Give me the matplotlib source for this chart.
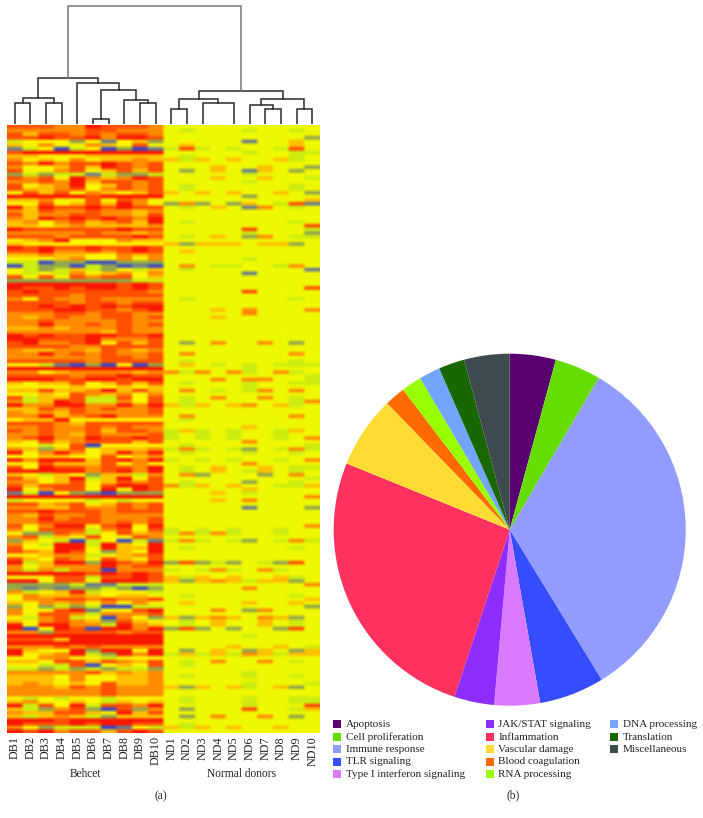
import numpy as np
import matplotlib
matplotlib.use("Agg")
from matplotlib import pyplot as plt
from matplotlib.colors import ListedColormap
from matplotlib.patches import Rectangle

plt.rcParams["font.family"] = ["Liberation Serif", "DejaVu Serif"]

W, H = 703, 818

# heatmap levels, one digit per cell
# 0 blue .. 4 lime background .. 9 red
behcet_rows = [
    "8887798887", "7777788777", "8688787887", "8898897998",
    "3555251562", "6575576585", "1350350201", "8999999999", "6655566666", "7565756676",
    "8797889878", "7556869878", "8557856868", "2323313223", "8785976798", "7787968878",
    "8567956878", "8667857878", "5868576568", "9999989999", "6675585875", "5585686975",
    "9698898988", "7687787767", "8677887768", "7698989879", "6757867869", "6656766667",
    "9888888988", "7777787767", "8887888898", "5679555766", "6555555555", "9898898898",
    "8897787898", "6676655767", "5556755757", "3302200222", "0322032010", "5323632536",
    "5353756757", "8585878856", "2222222233", "9999999898", "9889899898", "8988888887",
    "8888788888", "7587787777", "8888788788", "8898989899", "8889988789", "7778878877",
    "7678778878", "7787777877", "7797787878", "6676777877", "7777776877", "9898899889",
    "9988897778", "8977895868", "8888778888", "7667768767", "7797878778", "7777778878",
    "8888878888", "5531020502", "9999999999", "7756777767", "8888788988", "9998899899",
    "6566856868", "5555655656", "6686679686", "5565876757", "8366833858", "7369833758",
    "9779977979", "6687878778", "7676877778", "7796789777", "5669555555", "8887688888",
    "7787787877", "8787786887", "7787687778", "7897798898", "6586788868", "5535805555",
    "7626856667", "9579756979", "5566558567", "9799968979", "5586668575", "8598878879",
    "9999978979", "6536526637", "8656936958", "7756856878", "8688858998", "9578859598",
    "1305210222", "9999999999", "3555535355", "8867856878", "7766877878", "8898887888",
    "7687787777", "7797887778", "7788887878", "8579958959", "7588837858", "5228735867",
    "7836585587", "2653035031", "7539939659", "8559959669", "8769852659", "5567735678",
    "8658758658", "9369929879", "7567779788", "7373770777", "9999989898", "5558838898",
    "9958859998", "2222311333", "2121223202", "7356935553", "5766765665", "5778878778",
    "6576757575", "2523230033", "7558915589", "7588737778", "5378350752", "6578762865",
    "9599773976", "9059809979", "7728888788", "9999999999", "8886999999", "9999999999",
    "7778787777",
    "9655929959", "9567932979", "5577553555", "6658868768", "5533805658", "3323232332",
    "7777786767", "6665755667", "6665755667", "6765658667", "7776878777", "7777778777",
    "7777778777", "5353553555", "6755653656", "9385938879", "6327820827", "7668865968",
    "6367632666", "9998999999", "9888989988", "7523330153", "9897886898",
]
normal_rows = [
    "4444444444", "4344434434", "4444444444", "4444444442",
    "4544414464", "4644444464", "3834344384", "4444434433", "4344444434", "6364644634",
    "4444444444", "4446446442", "4246416424", "4444434444", "4446446443", "4444434444",
    "4344444434", "4344444434", "6464644642", "4444424444", "4444454446", "2724264381",
    "4346417434", "4444444444", "4444444444", "4444444444", "4344444434", "4444444448",
    "4444484443", "4444434442", "4346427433", "4444444444", "6266646624", "4444444444",
    "4644444444", "4444444444", "4444434444", "4444444444", "4743344374", "4344444441",
    "4444414444", "4444444444", "4444444444", "4444444444", "4444444448", "4444484444",
    "4444444444", "4344444434", "4444444444", "4444444444", "4446474447", "4444474444",
    "4446444444", "4444444444", "4444444444", "4444444444", "4444444444", "4444444444",
    "4444444444", "4247447424", "4444444444", "4444444444", "4744444474", "4444444444",
    "4344444434", "4643434333", "4444434444", "7374734734", "4444444443", "4447477443",
    "4344434433", "4444434444", "4743437474", "4444444444", "4347447434", "4344444437",
    "6364674634", "4444444444", "4444444444", "4744444474", "4344444444", "4444444444",
    "4444464444", "3634344364", "3434344344", "3434344347", "4444474444", "4344444443",
    "3734324373", "4344434434", "4444444444", "3434344347", "4444474444", "4346446433",
    "4346436434", "4724442474", "4444444443", "4344424434", "7364644336", "4444464444",
    "4446434444", "4444444447", "4446474444", "4444444444", "4444414442", "4444444444",
    "4444444444", "4444444444", "4444444444", "4444444447", "3434344344", "3737344344",
    "4444444444", "3734324373", "4444444444", "4344444434", "4444444444", "4444444444",
    "4444444444", "2823243284", "4444444444", "3437347344", "4444444444", "6364644634",
    "6267636624", "4444444447", "4444474444", "4444444444", "4344444434", "4444444446",
    "4644464464", "4444444442", "4447427444", "4444444444", "6267647624", "4346446434",
    "4346446434", "2824244284", "4444444444", "4444434444", "4444444444", "4444444444",
    "4444644643",
    "4246426426", "3636376366", "4444444444", "4347447434", "4344444444", "4444444444",
    "4444434444", "4344434434", "4444444444", "4444434443", "6264634624", "4444444444",
    "4444444444", "4344434433", "4344434433", "4444434448", "4244484436", "4444444444",
    "4247457424", "4444444444", "4344444444", "6364644644", "4444444444",
]

# colours of the ten levels
level_colors = ["#3848c8", "#6c7f8c", "#94a64a", "#cdec10", "#eef800",
                "#fbf400", "#ffc000", "#ff8c00", "#ff5000", "#f81800"]

behcet_labels = ["DB1", "DB2", "DB3", "DB4", "DB5", "DB6", "DB7", "DB8", "DB9", "DB10"]
normal_labels = ["ND1", "ND2", "ND3", "ND4", "ND5", "ND6", "ND7", "ND8", "ND9", "ND10"]

# dendrogram merges: left child, right child, height. Nodes from 20 up are merges.
merges = [
    (0, 1, 21), (2, 3, 21), (20, 21, 26), (5, 6, 5), (8, 9, 21), (7, 24, 24),
    (23, 25, 34), (4, 26, 41), (22, 27, 46), (10, 11, 15), (12, 14, 21), (29, 30, 25),
    (16, 17, 15), (15, 32, 19), (18, 19, 15), (33, 34, 25), (31, 35, 33), (28, 36, 118),
]

pie_names = ["Apoptosis", "Cell proliferation", "Immune response", "TLR signaling",
             "Type I interferon signaling", "JAK/STAT signaling", "Inflammation",
             "Vascular damage", "Blood coagulation", "RNA processing", "DNA processing",
             "Translation", "Miscellaneous"]
pie_values = [15.2, 15.2, 118.1, 21.5, 15.1, 13.2, 93.8, 23.8, 6.8, 6.7, 7.0, 8.6, 15.0]
pie_colors = ["#5a0070", "#66dd00", "#929cff", "#364dff", "#d97aff", "#8e2dff", "#ff315f",
              "#ffdc33", "#ff6a00", "#99ff00", "#73a5ff", "#1a6600", "#3e4a4d"]


def box(x0, y0, x1, y1):
    # pixel box (top-left origin) to figure fractions
    return [x0 / W, 1 - y1 / H, (x1 - x0) / W, (y1 - y0) / H]


def label(x, y, s, size=8.3, **kw):
    fig.text(x / W, 1 - y / H, s, fontsize=size, color="#222222", ha="center", va="center", **kw)


fig = plt.figure(figsize=(W / 100, H / 100), dpi=100)

# heatmap, columns repeated so the smoothing stays about as wide as one row
assert len(behcet_rows) == len(normal_rows), (len(behcet_rows), len(normal_rows))
grid = np.array([[int(c) for c in b + n] for b, n in zip(behcet_rows, normal_rows)])
ax = fig.add_axes(box(7, 125.3, 320, 733.3))
ax.imshow(np.repeat(grid, 4, axis=1), cmap=ListedColormap(level_colors), vmin=-0.5, vmax=9.5,
          aspect="auto", interpolation="bilinear", interpolation_stage="rgba",
          extent=(-0.5, 19.5, len(grid) - 0.5, -0.5))
ax.set_xticks(range(20))
ax.set_xticklabels(behcet_labels + normal_labels, rotation=90, fontsize=8.7, color="#222222")
ax.set_yticks([])
ax.tick_params(axis="x", length=0, pad=2)
for s in ax.spines.values():
    s.set_visible(False)

# dendrogram
dax = fig.add_axes(box(7, 5, 320, 124))
dax.set_xlim(-0.5, 19.5)
dax.set_ylim(0, 119)
dax.axis("off")
xs = {i: float(i) for i in range(20)}
ys = {i: 0.0 for i in range(20)}
for k, (a, b, h) in enumerate(merges):
    node = 20 + k
    c = "#777777" if k == len(merges) - 1 else "#2a2a2a"
    dax.plot([xs[a], xs[a], xs[b], xs[b]], [ys[a], h, h, ys[b]], color=c, lw=1.1,
             solid_joinstyle="miter")
    xs[node] = (xs[a] + xs[b]) / 2
    ys[node] = h

label(85, 774, "Behcet")
label(242, 774, "Normal donors")
label(161, 796, "(a)")

# pie
pax = fig.add_axes(box(333.7, 353.7, 685.7, 705.7))
pax.pie(pie_values, colors=pie_colors, startangle=90, counterclock=False, radius=1)
pax.set_xlim(-1, 1)
pax.set_ylim(-1, 1)

# legend, filled column by column
col_x = [333, 485.5, 610]
col_rows = [5, 5, 3]
k = 0
for cx, n in zip(col_x, col_rows):
    for r in range(n):
        ry = 724 + r * 12.5
        fig.add_artist(Rectangle((cx / W, 1 - (ry + 4) / H), 8 / W, 8 / H,
                                 transform=fig.transFigure, color=pie_colors[k], lw=0))
        fig.text((cx + 13) / W, 1 - (ry + 3) / H, pie_names[k], fontsize=8.0, color="#222222",
                 ha="left", va="baseline")
        k += 1

label(512.7, 795.7, "(b)")

fig.savefig("out.png", dpi=100)
